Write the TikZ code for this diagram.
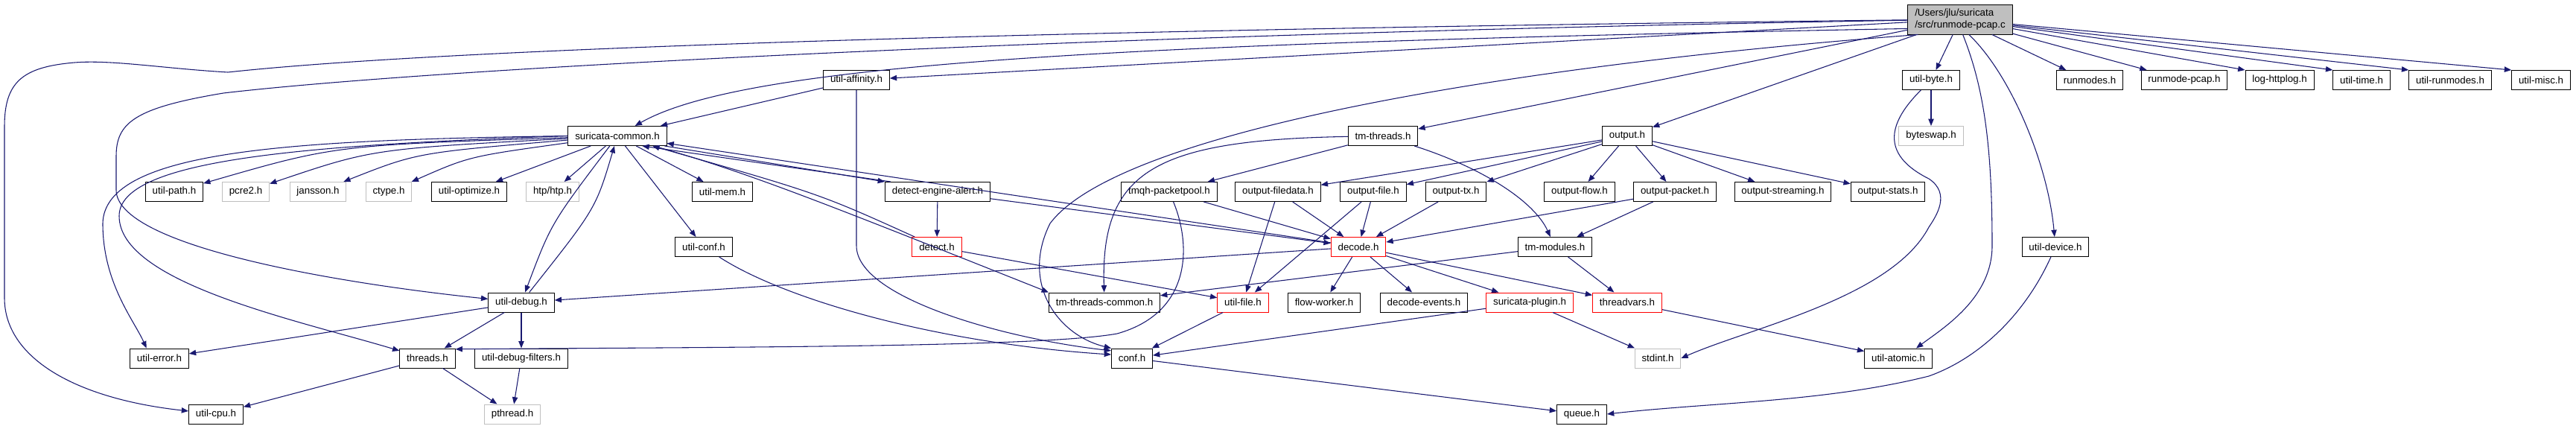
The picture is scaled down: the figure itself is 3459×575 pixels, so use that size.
\documentclass[tikz,border=0pt]{standalone}
\usepackage{fontspec}
\setmainfont{Liberation Sans}
\usepackage{xcolor}
\usetikzlibrary{arrows.meta}
\definecolor{edgeblue}{HTML}{191970}
\definecolor{sysgray}{HTML}{BFBFBF}

\begin{document}
\begin{tikzpicture}[x=0.75pt, y=-0.75pt,
  font=\fontsize{10}{12}\selectfont,
  hdr/.style={draw=black, fill=white, line width=0.75pt, minimum height=19.5pt,
              inner xsep=7pt, inner ysep=0pt},
  sys/.style={hdr, draw=sysgray},
  trunc/.style={hdr, draw=red},
  srcbox/.style={hdr, fill=sysgray, minimum height=30pt, align=left},
  inc/.style={-{Triangle[length=7pt, width=5.5pt]}, draw=edgeblue, line width=0.8pt}]

  \useasboundingbox (0,0) rectangle (3459,575);

  % source file
  \node[srcbox] (root) at (2632,26) {/Users/jlu/suricata\\/src/runmode-pcap.c};

  % row 1
  \node[hdr] (affinity)     at (1150,107.5) {util-affinity.h};
  \node[hdr] (utilbyte)     at (2593,107.5) {util-byte.h};
  \node[hdr] (runmodes)     at (2806,107.5) {runmodes.h};
  \node[hdr] (runmodepcap)  at (2933,107.5) {runmode-pcap.h};
  \node[hdr] (loghttplog)   at (3061,107.5) {log-httplog.h};
  \node[hdr] (utiltime)     at (3171,107.5) {util-time.h};
  \node[hdr] (utilrunmodes) at (3290,107.5) {util-runmodes.h};
  \node[hdr] (utilmisc)     at (3412,107.5) {util-misc.h};

  % row 2
  \node[hdr] (common)    at (829,182.5)  {suricata-common.h};
  \node[hdr] (tmthreads) at (1857,182.5) {tm-threads.h};
  \node[hdr] (output)    at (2185,182.5) {output.h};
  \node[sys] (byteswap)  at (2593,182.5) {byteswap.h};

  % row 3
  \node[hdr] (utilpath)   at (234,257.5)  {util-path.h};
  \node[sys] (pcre)       at (330,257.5)  {pcre2.h};
  \node[sys] (jansson)    at (427,257.5)  {jansson.h};
  \node[sys] (ctype)      at (522,257.5)  {ctype.h};
  \node[hdr] (optimize)   at (630,257.5)  {util-optimize.h};
  \node[sys] (htp)        at (742,257.5)  {htp/htp.h};
  \node[hdr] (utilmem)    at (970,257.5)  {util-mem.h};
  \node[hdr] (dealert)    at (1259,257.5) {detect-engine-alert.h};
  \node[hdr] (packetpool) at (1570,257.5) {tmqh-packetpool.h};
  \node[hdr] (filedata)   at (1716,257.5) {output-filedata.h};
  \node[hdr] (outfile)    at (1844,257.5) {output-file.h};
  \node[hdr] (outtx)      at (1955,257.5) {output-tx.h};
  \node[hdr] (outflow)    at (2121,257.5) {output-flow.h};
  \node[hdr] (outpacket)  at (2249,257.5) {output-packet.h};
  \node[hdr] (streaming)  at (2394,257.5) {output-streaming.h};
  \node[hdr] (stats)      at (2535,257.5) {output-stats.h};

  % row 4
  \node[hdr]   (utilconf)   at (945,331.5)  {util-conf.h};
  \node[trunc] (detect)     at (1258,331.5) {detect.h};
  \node[trunc] (decode)     at (1824,331.5) {decode.h};
  \node[hdr]   (tmmodules)  at (2088,331.5) {tm-modules.h};
  \node[hdr]   (utildevice) at (2760,331.5) {util-device.h};

  % row 5
  \node[hdr]   (utildebug)    at (700,406)  {util-debug.h};
  \node[hdr]   (tmtc)         at (1483,406) {tm-threads-common.h};
  \node[trunc] (utilfile)     at (1669,406) {util-file.h};
  \node[hdr]   (flowworker)   at (1778,406) {flow-worker.h};
  \node[hdr]   (decodeevents) at (1912,406) {decode-events.h};
  \node[trunc] (plugin)       at (2054,406) {suricata-plugin.h};
  \node[trunc] (threadvars)   at (2185,406) {threadvars.h};

  % row 6
  \node[hdr] (utilerror)    at (214,481)  {util-error.h};
  \node[hdr] (threads)      at (574,481)  {threads.h};
  \node[hdr] (debugfilters) at (700,481)  {util-debug-filters.h};
  \node[hdr] (conf)         at (1520,481) {conf.h};
  \node[sys] (stdint)       at (2226,481) {stdint.h};
  \node[hdr] (atomic)       at (2549,481) {util-atomic.h};

  % row 7
  \node[hdr] (utilcpu) at (290,556)  {util-cpu.h};
  \node[sys] (pthread) at (688,556)  {pthread.h};
  \node[hdr] (queue)   at (2124,556) {queue.h};

  % includes of the source file
  \draw[inc] (root) .. controls (1400,40) and (600,65) .. (306,97)
     .. controls (220,92) and (150,80) .. (100,84)
     .. controls (30,90) and (6,110) .. (6,170) -- (6,400)
     .. controls (6,480) and (100,535) .. (utilcpu);
  \draw[inc] (root) .. controls (1500,45) and (600,90) .. (300,125)
     .. controls (180,145) and (156,165) .. (156,210) -- (156,255)
     .. controls (156,330) and (450,380) .. (utildebug);
  \draw[inc] (root.190) .. controls (1500,58) and (1000,85) .. (common);
  \draw[inc] (root) -- (affinity);
  \draw[inc] (root.200) .. controls (2000,90) and (1500,180) .. (1410,300)
     .. controls (1370,380) and (1420,450) .. (conf.north west);
  \draw[inc] (root) -- (tmthreads);
  \draw[inc] (root) -- (output);
  \draw[inc] (root) -- (utilbyte);
  \draw[inc] (root) -- ([xshift=10pt]runmodes.north west);
  \draw[inc] (root) -- ([xshift=6pt]runmodepcap.north west);
  \draw[inc] (root) -- (loghttplog.north west);
  \draw[inc] (root) -- (utiltime.north west);
  \draw[inc] (root) -- (utilrunmodes.north west);
  \draw[inc] (root) -- (utilmisc.north west);
  \draw[inc] (root.-80) .. controls (2665,120) and (2675,200) .. (2675,330)
     .. controls (2675,400) and (2610,440) .. ([xshift=18pt]atomic.north);
  \draw[inc] (root.-60) .. controls (2700,100) and (2750,220) .. (utildevice);

  % util-affinity.h, util-byte.h, util-device.h
  \draw[inc] (affinity) -- (common);
  \draw[inc] (affinity) -- (1150,330) .. controls (1150,400) and (1350,455) .. (conf.160);
  \draw[inc] (utilbyte) -- (byteswap);
  \draw[inc] (utilbyte) .. controls (2530,170) and (2530,210) .. (2590,240)
     .. controls (2620,260) and (2600,290) .. (2590,305)
     .. controls (2540,400) and (2350,440) .. (stdint.east);
  \draw[inc] (utildevice) .. controls (2720,420) and (2660,480) .. (2590,505)
     .. controls (2450,540) and (2300,540) .. (queue.east);

  % suricata-common.h
  \draw[inc] (common) .. controls (450,195) .. (utilpath);
  \draw[inc] (common) .. controls (500,200) .. (pcre);
  \draw[inc] (common) .. controls (560,205) .. (jansson);
  \draw[inc] (common) .. controls (630,210) .. (ctype);
  \draw[inc] (common) -- (optimize);
  \draw[inc] (common) -- (htp);
  \draw[inc] (common) -- (utilmem);
  \draw[inc] (common) -- (utilconf);
  \draw[inc] (common) .. controls (740,300) .. (utildebug);
  \draw[inc] (common.west) .. controls (400,188) and (140,200) .. (138,300)
     .. controls (138,380) and (180,430) .. ([xshift=-13pt]utilerror.north);
  \draw[inc] (common.west) .. controls (400,195) and (160,215) .. (160,290)
     .. controls (160,380) and (400,430) .. (threads.165);
  \draw[inc] (common.-12) -- (dealert.north west);
  \draw[inc] (common) .. controls (1000,230) and (1100,270) .. (tmtc.north west);

  % back to suricata-common.h
  \draw[inc] (utildebug) .. controls (800,280) .. (common);
  \draw[inc] ([xshift=6pt]dealert.north west) -- (common.-22);
  \draw[inc] (detect) .. controls (1100,260) .. (common);
  \draw[inc] (decode) -- (common);

  % tm-threads.h and output.h
  \draw[inc] (tmthreads) -- (packetpool);
  \draw[inc] (tmthreads) .. controls (1550,188) and (1478,230) .. (tmtc);
  \draw[inc] (tmthreads) .. controls (1990,225) and (2060,270) .. (tmmodules);
  \draw[inc] (output) -- (filedata);
  \draw[inc] (output) -- (outfile);
  \draw[inc] (output) -- (outtx);
  \draw[inc] (output) -- (outflow);
  \draw[inc] (output) -- (outpacket);
  \draw[inc] (output) -- (streaming);
  \draw[inc] (output) -- (stats);

  % row 3 to decode.h
  \draw[inc] (dealert) -- (detect);
  \draw[inc] (dealert) -- (decode);
  \draw[inc] (packetpool) -- (decode);
  \draw[inc] (packetpool) .. controls (1600,330) and (1600,420) .. (1500,448)
     .. controls (1400,466) and (1000,466) .. (threads.18);
  \draw[inc] (filedata) -- (decode);
  \draw[inc] (filedata) -- (utilfile);
  \draw[inc] (outfile) -- (decode);
  \draw[inc] (outfile) -- (utilfile);
  \draw[inc] (outtx) -- (decode);
  \draw[inc] (outpacket) -- (decode);
  \draw[inc] (outpacket) -- (tmmodules);

  % row 4 down
  \draw[inc] (utilconf) .. controls (1050,400) and (1250,460) .. (conf.170);
  \draw[inc] (detect) -- (utilfile);
  \draw[inc] (decode) -- (utildebug);
  \draw[inc] (decode) -- (flowworker);
  \draw[inc] (decode) -- (decodeevents);
  \draw[inc] (decode) -- (plugin);
  \draw[inc] (decode) -- (threadvars);
  \draw[inc] (tmmodules) -- (tmtc);
  \draw[inc] (tmmodules) -- (threadvars);

  % row 5 down
  \draw[inc] (utilfile) -- (conf);
  \draw[inc] (plugin) -- (conf);
  \draw[inc] (plugin) -- (stdint);
  \draw[inc] (threadvars) -- (atomic);
  \draw[inc] (utildebug) -- (utilerror);
  \draw[inc] (utildebug) -- (threads);
  \draw[inc] (utildebug) -- (debugfilters);

  % row 6 down
  \draw[inc] (threads) -- (utilcpu);
  \draw[inc] (threads) -- (pthread);
  \draw[inc] (debugfilters) -- (pthread);
  \draw[inc] (conf) -- (queue);
\end{tikzpicture}
\end{document}
